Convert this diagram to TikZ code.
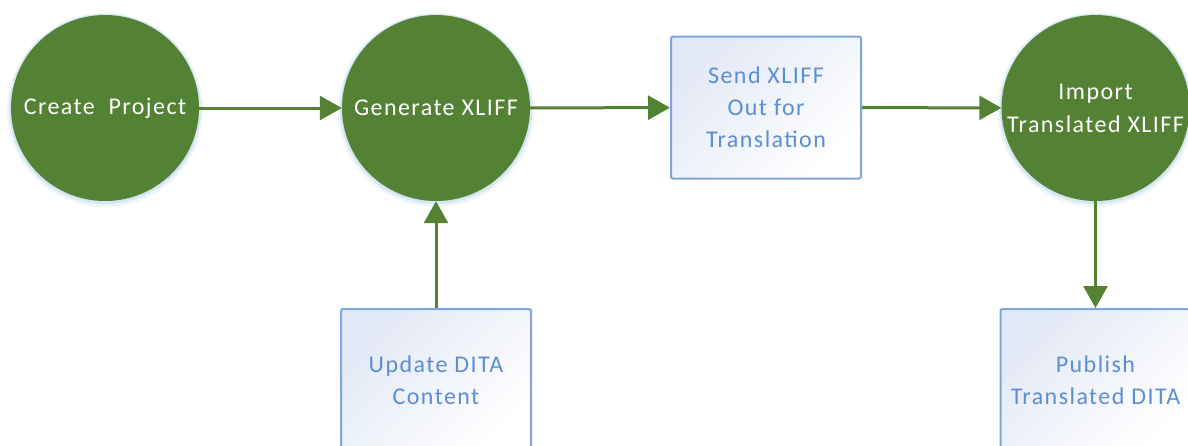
\documentclass[tikz,border=0pt]{standalone}
\usepackage{fontspec}
\setmainfont{Carlito}[LetterSpace=6]
\usetikzlibrary{shapes.geometric,arrows.meta}
\definecolor{dgreen}{HTML}{548235}
\definecolor{boxblue}{HTML}{7EA6D8}
\definecolor{txtblue}{HTML}{5B8FD1}
\definecolor{boxfill}{HTML}{E2E8F5}
\definecolor{glow}{HTML}{BDD7EE}
\tikzset{
  stage/.style={ellipse, fill=dgreen, minimum width=188pt, minimum height=186pt,
    inner sep=0pt,
    preaction={draw=glow, line width=8pt, opacity=0.25, transform canvas={yshift=-2pt}},
    preaction={draw=glow, line width=4pt, opacity=0.5, transform canvas={yshift=-1pt}},
    label={[stagetext]center:#1}},
  stagetext/.style={text=white, align=center, inner sep=0pt, font=\fontsize{24}{33}\selectfont},
  task/.style={rectangle, rounded corners=2pt, draw=boxblue, line width=2pt,
    top color=boxfill, bottom color=white, shading angle=45,
    minimum width=190pt, minimum height=142pt, inner sep=0pt,
    text=txtblue, align=center, font=\fontsize{24}{32}\selectfont},
  flow/.style={draw=dgreen, line width=3pt, -{Triangle[length=22pt,width=24pt]}}
}
\begin{document}
\begin{tikzpicture}[x=1pt,y=-1pt]
\useasboundingbox (0,0) rectangle (1188,445);
\clip (0,0) rectangle (1188,445);
\node[stage={Create\ \ Project}] (create) at (105,108) {};
\node[stage={Generate XLIFF}] (gen) at (436,108) {};
\node[task] (send) at (766,107.5) {Send XLIFF\\Out for\\Translation};
\node[stage={Import\\Translated XLIFF}] (imp) at (1095.5,108) {};
\node[task] (upd) at (436,380) {Update DITA\\Content};
\node[task] (pub) at (1095.5,380) {Publish\\Translated DITA};
\draw[flow] (create) -- (gen);
\draw[flow] (gen) -- (send);
\draw[flow] (send) -- (imp);
\draw[flow] (imp) -- (pub);
\draw[flow] (upd) -- (gen);
\end{tikzpicture}
\end{document}
